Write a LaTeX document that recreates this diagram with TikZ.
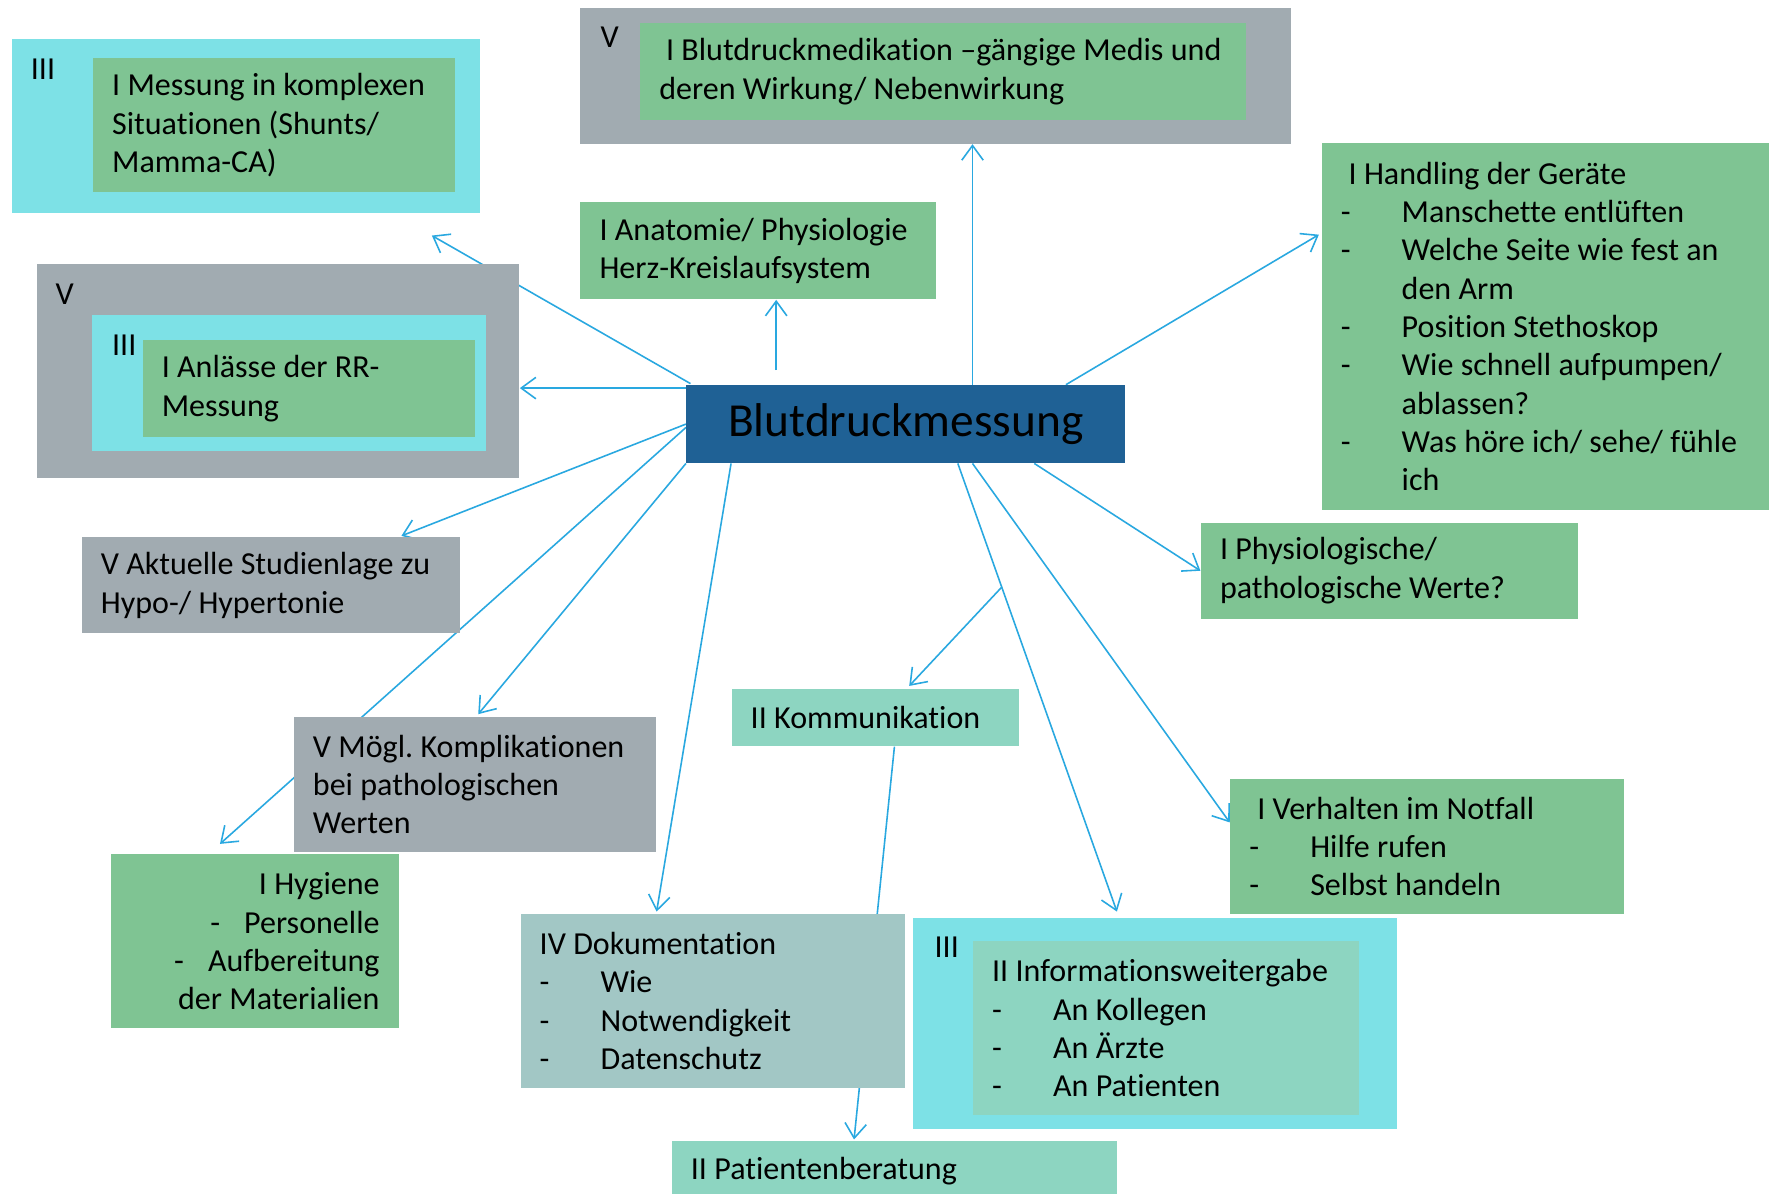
\documentclass[tikz,border=0pt]{standalone}
\usepackage{fontspec}
\setmainfont{Carlito}[Ligatures=NoCommon]
\usetikzlibrary{arrows.meta}
\usetikzlibrary{calc}

\pgfdeclarelayer{bg}
\pgfsetlayers{bg,main}

\definecolor{boxgreen}{HTML}{7FC493}
\definecolor{boxcyan}{HTML}{7DE1E6}
\definecolor{boxgray}{HTML}{A1ABB1}
\definecolor{boxteal}{HTML}{8DD5C1}
\definecolor{boxdoku}{HTML}{A2C7C5}
\definecolor{boxblue}{HTML}{1F6195}
\definecolor{linkblue}{HTML}{29A8E0}

\newcommand{\boxfont}{\fontsize{14.2}{17}\selectfont}
\newcommand{\dashitem}[1]{\makebox[27pt][l]{-}#1}

\tikzset{
	frame/.style={anchor=north west, inner sep=0pt},
	box/.style={anchor=north west, inner xsep=8.5pt, inner ysep=0pt, align=left, font=\boxfont,
		execute at begin node={\spaceskip=3.25pt\xspaceskip=3.25pt}},
	lvl/.style={anchor=west, inner sep=0pt, font=\boxfont},
	link/.style={draw=linkblue, line width=0.7pt, -{Straight Barb[length=6.5pt,width=9.5pt]}},
}

\begin{document}
\begin{tikzpicture}[x=0.5pt, y=-0.5pt]
		\useasboundingbox (0,0) rectangle (1568,1058);
		% top left
		\node[frame, fill=boxcyan, minimum width=207.5pt, minimum height=77pt] (messO) at (10,34) {};
		\node[lvl] (messL) at (27,61) {III};
		\node[box, fill=boxgreen, minimum width=160.5pt, minimum height=59.5pt, text width=143.5pt] (messI) at (82,51)
			{I Messung in komplexen\\ Situationen (Shunts/\\ Mamma-CA)};
		% top middle
		\node[frame, fill=boxgray, minimum width=315pt, minimum height=60pt] (mediO) at (514,7) {};
		\node[lvl] (mediL) at (532,33) {V};
		\node[box, fill=boxgreen, minimum width=268.5pt, minimum height=43pt, text width=251.5pt] (mediI) at (567,20)
			{\mbox{\hspace{3pt}I Blutdruckmedikation –gängige Medis und}\\ deren Wirkung/ Nebenwirkung};
		\node[box, fill=boxgreen, minimum width=157.5pt, minimum height=43pt, text width=140.5pt] (anat) at (514,179)
			{I Anatomie/ Physiologie\\ Herz-Kreislaufsystem};
		% left
		\node[frame, fill=boxgray, minimum width=214pt, minimum height=94.5pt] (anlO) at (32,234) {};
		\node[lvl] (anlL) at (49,261) {V};
		\node[frame, fill=boxcyan, minimum width=174.5pt, minimum height=60pt] (anlM) at (81,279) {};
		\node[lvl] (anlN) at (99,306) {III};
		\node[box, fill=boxgreen, minimum width=147.5pt, minimum height=43pt, text width=130.5pt] (anlI) at (126,301)
			{I Anlässe der RR-\\ Messung};
		% centre
		\node[anchor=north west, inner sep=0pt, fill=boxblue, minimum width=194.5pt, minimum height=34.5pt,
			font=\fontsize{21}{25}\selectfont] (center) at (608,341) {Blutdruckmessung};
		% right
		\node[box, fill=boxgreen, minimum width=198.5pt, minimum height=163pt, text width=181.5pt] (hand) at (1171,126)
			{\hspace{3.5pt}I Handling der Geräte\\ \dashitem{Manschette entlüften}\\ \dashitem{Welche Seite wie fest an}\\
			\hspace*{27pt}den Arm\\ \dashitem{Position Stethoskop}\\ \dashitem{Wie schnell aufpumpen/}\\
			\hspace*{27pt}ablassen?\\ \dashitem{Was höre ich/ sehe/ fühle}\\ \hspace*{27pt}ich};
		\node[box, fill=boxgreen, minimum width=167pt, minimum height=42.5pt, text width=150pt] (phys) at (1064,463)
			{I Physiologische/\\ pathologische Werte?};
		\node[box, fill=boxgreen, minimum width=174.5pt, minimum height=60pt, text width=157.5pt] (notf) at (1090,690)
			{\hspace{3.5pt}I Verhalten im Notfall\\ \dashitem{Hilfe rufen}\\ \dashitem{Selbst handeln}};
		% lower left
		\node[box, fill=boxgray, minimum width=167.5pt, minimum height=42.5pt, text width=150.5pt] (studie) at (72,476)
			{V Aktuelle Studienlage zu\\ Hypo-/ Hypertonie};
		\node[box, fill=boxgray, minimum width=160.5pt, minimum height=60pt, text width=143.5pt] (kompl) at (260,635)
			{V Mögl. Komplikationen\\ bei pathologischen\\ Werten};
		\node[box, align=right, fill=boxgreen, minimum width=127.5pt, minimum height=77pt, text width=110.5pt] (hyg) at (98,757)
			{I Hygiene\\ \makebox[15pt][l]{-}Personelle\\ \makebox[15pt][l]{-}Aufbereitung\\ der Materialien};
		% bottom
		\node[box, fill=boxteal, minimum width=127.5pt, minimum height=25.5pt, text width=110.5pt] (komm) at (648,610)
			{II Kommunikation};
		\node[box, fill=boxdoku, minimum width=170.5pt, minimum height=77pt, text width=153.5pt] (doku) at (461,810)
			{IV Dokumentation\\ \dashitem{Wie}\\ \dashitem{Notwendigkeit}\\ \dashitem{Datenschutz}};
		\node[frame, fill=boxcyan, minimum width=214.5pt, minimum height=93.5pt] (infoO) at (809,813) {};
		\node[lvl] (infoL) at (828,840) {III};
		\node[box, fill=boxteal, minimum width=171pt, minimum height=77pt, text width=154pt] (infoI) at (862,834)
			{II Informationsweitergabe\\ \dashitem{An Kollegen}\\ \dashitem{An Ärzte}\\ \dashitem{An Patienten}};
		\node[box, fill=boxteal, minimum width=197.5pt, minimum height=27pt, text width=180.5pt] (berat) at (595,1011)
			{II Patientenberatung};
		% connectors
		\begin{pgfonlayer}{bg}
			\fill[white] (0,0) rectangle (1568,1058);
			\draw[link] ($(center.north west)+(4,-1)$) -- ($(messO.south east)+(-43,20)$);
			\coordinate (c2) at ($(center.north west)+(0,3)$);
			\draw[link] (c2) -- (c2 -| anlO.east);
			\coordinate (c3) at ($(center.north west)+(80,-13)$);
			\draw[link] (c3) -- (c3 |- anat.south);
			\coordinate (c4) at ($(center.north west)+(254,0)$);
			\draw[link] (c4) -- (c4 |- mediO.south);
			\draw[link] ($(center.north east)+(-53,0)$) -- ($(hand.north west)+(-2,82)$);
			\draw[link] ($(center.south east)+(-81,0)$) -- (phys.west);
			\draw[link] ($(center.south west)+(254,0)$) -- ($(notf.north west)+(0,39)$);
			\draw[link] ($(center.south west)+(241,0)$) -- coordinate[pos=0.276] (c9) ($(infoO.north west)+(181,-5)$);
			\draw[link] (c9) -- ($(komm.north)+(30,-2)$);
			\draw[link] (center.west) -- ($(studie.north east)+(-52,-1)$);
			\draw[link] ($(center.west)+(0,3)$) -- ($(hyg.north west)+(97,-9)$);
			\draw[link] (center.south west) -- ($(kompl.north)+(3,-2)$);
			\draw[link] ($(center.south west)+(40,0)$) -- ($(doku.north west)+(121,-2)$);
			\draw[link] ($(komm.south east)+(-111,0)$) -- ($(berat.north west)+(162,-1)$);
		\end{pgfonlayer}
	\end{tikzpicture}
\end{document}
